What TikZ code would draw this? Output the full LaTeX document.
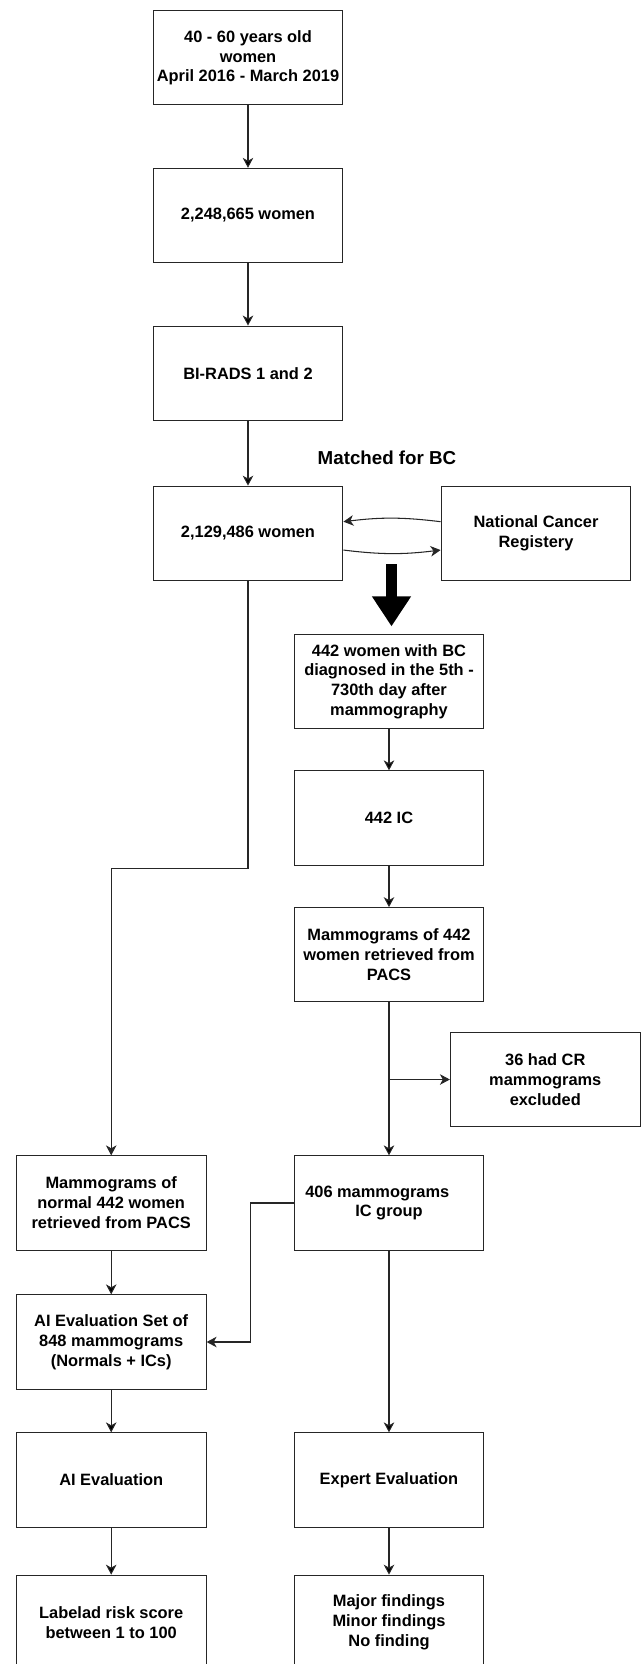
\documentclass[tikz,border=0pt]{standalone}
\usepackage{fontspec}
\setmainfont{Liberation Sans}
\usetikzlibrary{arrows.meta}

\tikzset{
  box/.style={draw=black!85, line width=0.9pt, minimum width=162pt, minimum height=80.5pt,
    inner sep=2pt, align=center, font=\fontsize{14}{17}\selectfont\bfseries},
  arr/.style={draw=black!85, line width=0.9pt, -{Stealth[length=8.5pt,width=9pt,inset=2.5pt]}},
  bigarr/.style={line width=9.8pt, -{Triangle[length=25.6pt,width=31.6pt]}},
}

\begin{document}
\begin{tikzpicture}[x=0.03cm, y=-0.03cm]
        \useasboundingbox (0,0) rectangle (641,1664);

        % main column
        \node[box] (b1) at (248, 57.8) {40 - 60 years old\\women\\April 2016 - March 2019};
        \node[box] (b2) at (248, 215.5) {2,248,665 women};
        \node[box] (b3) at (248, 373.2) {BI-RADS 1 and 2};
        \node[font=\fontsize{16}{19}\selectfont\bfseries] (match) at (387, 457.7) {Matched for BC};
        \node[box] (b4) at (248, 533.3) {2,129,486 women};
        \node[box] (ncr) at (536, 533.3) {National Cancer\\Registery};

        % cancer column
        \node[box] (b5) at (389, 681.7) {442 women with BC\\diagnosed in the 5th -\\730th day after\\mammography};
        \node[box] (b6) at (389, 818) {442 IC};
        \node[box] (b7) at (389, 954.8) {Mammograms of 442\\women retrieved from\\PACS};
        \node[box] (b8) at (545.3, 1079.5) {36 had CR\\mammograms\\excluded};
        \node[box] (b9) at (389, 1203) {406 mammograms\hspace*{20pt}\\IC group};
        \node[box] (b13) at (389, 1480) {Expert Evaluation};
        \node[box] (b15) at (389, 1622.3) {Major findings\\Minor findings\\No finding};

        % normal column
        \node[box] (b10) at (111.2, 1203) {Mammograms of\\normal 442 women\\retrieved from PACS};
        \node[box] (b11) at (111.2, 1342) {AI Evaluation Set of\\848 mammograms\\(Normals + ICs)};
        \node[box] (b12) at (111.2, 1480) {AI Evaluation};
        \node[box] (b14) at (111.2, 1622.3) {Labelad risk score\\between 1 to 100};

        \coordinate (bcstart) at (391.5, 564);
        \coordinate (split) at (b7.south |- b8.west);

        \path[arr]
            (b1) edge (b2)
            (b2) edge (b3)
            (b3) edge (b4)
            (b5) edge (b6)
            (b6) edge (b7)
            (b7) edge (b9)
            (b9) edge (b13)
            (b13) edge (b15)
            (b10) edge (b11)
            (b11) edge (b12)
            (b12) edge (b14);

        \draw[arr] (split) -- (b8.west);
        \draw[arr] ([yshift=9.9pt]ncr.west) to[bend right=7] ([yshift=9.9pt]b4.east);
        \draw[arr] ([yshift=-14.3pt]b4.east) to[bend right=7] ([yshift=-14.3pt]ncr.west);
        \draw[bigarr, shorten >=6.5pt] (bcstart) -- (bcstart |- b5.north);

        \draw[arr] (b4.south) -- ++(0, 287.6) -| (b10.north);
        \draw[arr] (b9.west) -- ++(-43.4, 0) |- (b11.east);

\end{tikzpicture}
\end{document}
